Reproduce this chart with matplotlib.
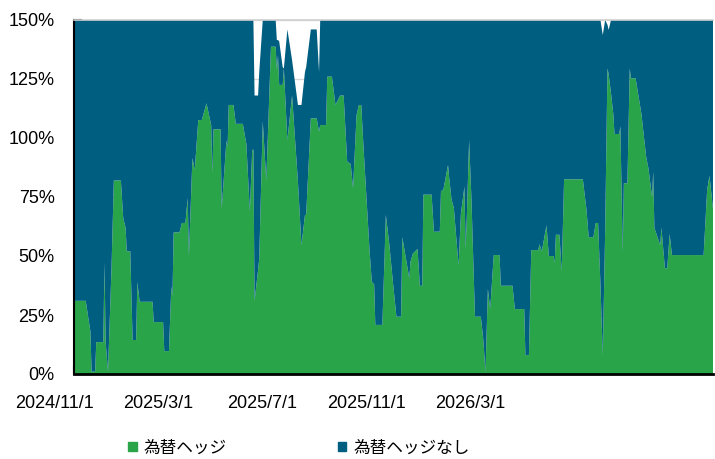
import numpy as np
import pandas as pd
import matplotlib
matplotlib.use('Agg')
import matplotlib.pyplot as plt
from matplotlib.patches import Patch
import matplotlib.font_manager as fm

# 為替ヘッジ比率の推移（為替ヘッジ / 為替ヘッジなし の積み上げ）
dates = [
    '2024-11-01', '2024-11-11', '2024-11-15', '2024-11-16', '2024-11-19', '2024-11-20',
    '2024-11-26', '2024-11-27', '2024-11-28', '2024-11-30', '2024-12-03', '2024-12-05',
    '2024-12-11', '2024-12-13', '2024-12-15', '2024-12-16', '2024-12-19', '2024-12-21',
    '2024-12-24', '2024-12-25', '2024-12-27', '2025-01-07', '2025-01-08', '2025-01-16',
    '2025-01-17', '2025-01-21', '2025-01-23', '2025-01-24', '2025-01-25', '2025-01-30',
    '2025-02-01', '2025-02-04', '2025-02-06', '2025-02-07', '2025-02-10', '2025-02-12',
    '2025-02-15', '2025-02-18', '2025-02-22', '2025-02-26', '2025-02-27', '2025-02-28',
    '2025-03-06', '2025-03-07', '2025-03-11', '2025-03-12', '2025-03-13', '2025-03-17',
    '2025-03-19', '2025-03-25', '2025-03-28', '2025-03-31', '2025-04-02', '2025-04-03',
    '2025-04-04', '2025-04-07', '2025-04-08', '2025-04-11', '2025-04-14', '2025-04-18',
    '2025-04-22', '2025-04-23', '2025-04-24', '2025-04-25', '2025-04-28', '2025-04-29',
    '2025-05-02', '2025-05-06', '2025-05-11', '2025-05-14', '2025-05-17', '2025-05-18',
    '2025-05-22', '2025-05-27', '2025-05-29', '2025-05-30', '2025-06-04', '2025-06-05',
    '2025-06-09', '2025-06-12', '2025-06-16', '2025-06-19', '2025-06-22', '2025-06-25',
    '2025-06-27', '2025-06-30', '2025-07-02', '2025-07-04', '2025-07-06', '2025-07-11',
    '2025-07-13', '2025-07-15', '2025-07-16', '2025-07-22', '2025-07-25', '2025-07-28',
    '2025-07-31', '2025-08-03', '2025-08-07', '2025-08-08', '2025-08-14', '2025-08-15',
    '2025-08-17', '2025-08-21', '2025-08-23', '2025-08-25', '2025-08-26', '2025-09-02',
    '2025-09-04', '2025-09-09', '2025-09-10', '2025-09-12', '2025-09-16', '2025-09-17',
    '2025-09-19', '2025-09-21', '2025-09-23', '2025-09-25', '2025-09-27', '2025-09-30',
    '2025-10-01', '2025-10-02', '2025-10-04', '2025-10-06', '2025-10-09', '2025-10-14',
    '2025-10-16', '2025-10-18', '2025-10-20', '2025-10-22', '2025-10-25', '2025-10-30',
    '2025-10-31', '2025-11-10', '2025-11-12', '2025-11-20', '2025-11-21', '2025-11-24',
    '2025-11-26', '2025-12-02', '2025-12-03', '2025-12-05', '2025-12-09', '2025-12-11',
    '2025-12-15', '2025-12-16', '2025-12-17', '2025-12-20', '2025-12-22', '2025-12-24',
    '2026-01-09', '2026-01-12', '2026-01-14', '2026-01-18', '2026-01-20', '2026-01-22',
    '2026-01-24', '2026-01-26', '2026-01-28', '2026-01-30', '2026-01-31', '2026-02-02',
    '2026-02-04', '2026-02-05', '2026-02-09', '2026-02-10', '2026-02-12', '2026-02-13',
    '2026-02-16', '2026-02-18', '2026-02-19', '2026-02-23', '2026-02-28', '2026-03-04',
    '2026-03-06', '2026-03-09', '2026-03-10', '2026-03-11', '2026-03-13', '2026-03-16',
    '2026-03-17', '2026-03-20', '2026-03-22', '2026-03-24', '2026-03-26', '2026-04-22',
    '2026-04-25', '2026-04-27', '2026-04-30',
]

hedged = [
    31, 31, 18, 1, 1, 13.5,
    13.5, 47, 13.5, 1, 45, 82,
    82, 66, 62, 52, 52, 14.4,
    14.4, 39, 30.6, 30.6, 22, 22,
    9.7, 9.7, 37, 33, 60, 60,
    64, 64, 74.6, 50, 91.5, 86.4,
    107.6, 107.6, 114.7, 105.5, 85, 103.7,
    103.7, 70, 99, 96, 114, 114,
    106, 106, 97.5, 68.8, 95, 95,
    31, 44, 49, 107, 82, 138.7,
    138.7, 128.8, 135, 122.5, 122.5, 129.5,
    99, 118, 81.5, 54.6, 67.4, 67.4,
    108.3, 108.3, 102.7, 105.5, 105.5, 126,
    126, 114, 118, 118, 90, 89,
    78.7, 109.7, 114, 114, 95.6, 53,
    39, 38, 20.8, 20.8, 67.4, 54.6,
    39, 24.3, 24.3, 58, 40.5, 47.6,
    51, 53, 37.4, 37.4, 76, 76,
    60.3, 60.3, 77.5, 78, 88.6, 83,
    74, 70.3, 58, 46, 68, 79.4,
    53, 66, 99, 74, 24.3, 24.3,
    15, 1, 36, 27.6, 50.4, 50.4,
    37.4, 37.4, 27.5, 27.5, 8, 8,
    52.5, 52.5, 55, 52, 63, 50,
    50, 47, 59, 59, 43.5, 82.5,
    82.5, 70, 58, 58, 64, 64,
    38, 8, 60, 129.5, 127, 119,
    110, 101.7, 101.7, 105, 51.8, 80.8,
    80.8, 129.5, 125.3, 125.3, 110, 92,
    87, 75, 85.7, 62, 58.9, 54.6,
    62, 44.8, 44.8, 59.3, 50.4, 50.4,
    78, 84, 70,
]

# 合計（上端）: ほぼ150%、一部期間のみ下回る
total = [150] * len(dates)
total_low = {
    '2025-04-04': 118, '2025-04-07': 118, '2025-04-08': 128,
    '2025-04-23': 141.5, '2025-04-24': 141.5, '2025-04-25': 141,
    '2025-04-28': 130, '2025-04-29': 129.5, '2025-05-02': 146,
    '2025-05-06': 133, '2025-05-11': 114, '2025-05-14': 114,
    '2025-05-17': 128, '2025-05-18': 130, '2025-05-22': 146,
    '2025-05-27': 146, '2025-05-29': 128,
    '2026-01-26': 143.6, '2026-01-30': 148, '2026-01-31': 145.8,
}
for i, d in enumerate(dates):
    if d in total_low:
        total[i] = total_low[d]

x = pd.to_datetime(dates)
hedged = np.array(hedged, dtype=float)
unhedged = np.array(total, dtype=float) - hedged

green = '#29a449'
blue = '#005e80'

fig = plt.figure(figsize=(7.15, 4.59), dpi=100)
ax = fig.add_axes([74/715, 1-374/459, 639/715, 354/459])

ax.stackplot(x, hedged, unhedged, colors=[green, blue], lw=0)

ax.set_xlim(pd.Timestamp('2024-11-01'), pd.Timestamp('2026-04-30'))
ax.set_ylim(0, 150)

num_font = ['Liberation Sans', 'DejaVu Sans']
yt = np.arange(0, 151, 25)
ax.set_yticks(yt)
ax.set_yticklabels([f'{v}%' for v in yt], family=num_font, fontsize=13)

tick_dates = pd.to_datetime(['2024-11-01', '2025-03-01', '2025-07-01', '2025-11-01', '2026-03-01'])
ax.set_xticks(tick_dates)
ax.set_xticklabels([])
xlabels = ['2024/11/1', '2025/3/1', '2025/7/1', '2025/11/1', '2026/3/1']
for i, lab in enumerate(xlabels):
    ax.text(-0.031 + i*0.1627, -0.082, lab, transform=ax.transAxes,
            ha='center', va='center', family=num_font, fontsize=13)

ax.tick_params(axis='both', direction='in', length=6, width=1.5, color='black')
ax.tick_params(axis='y', pad=14)

ax.yaxis.grid(True, color='#d9d9d9', lw=1)
ax.set_axisbelow(True)
ax.spines['right'].set_visible(False)
ax.spines['top'].set_color('#d0d0d0')
ax.spines['top'].set_linewidth(1.2)
ax.spines['left'].set_linewidth(1.5)
ax.spines['bottom'].set_linewidth(2)

handles = [Patch(color=green, label='為替ヘッジ'), Patch(color=blue, label='為替ヘッジなし')]
fig.legend(handles=handles, loc='center', bbox_to_anchor=(0.418, 0.024), ncol=2,
           frameon=False, handlelength=0.5, handleheight=0.5, handletextpad=0.4,
           columnspacing=6.7, prop=fm.FontProperties(family='Noto Sans CJK JP', size=12))

fig.savefig('out.png', dpi=100)
